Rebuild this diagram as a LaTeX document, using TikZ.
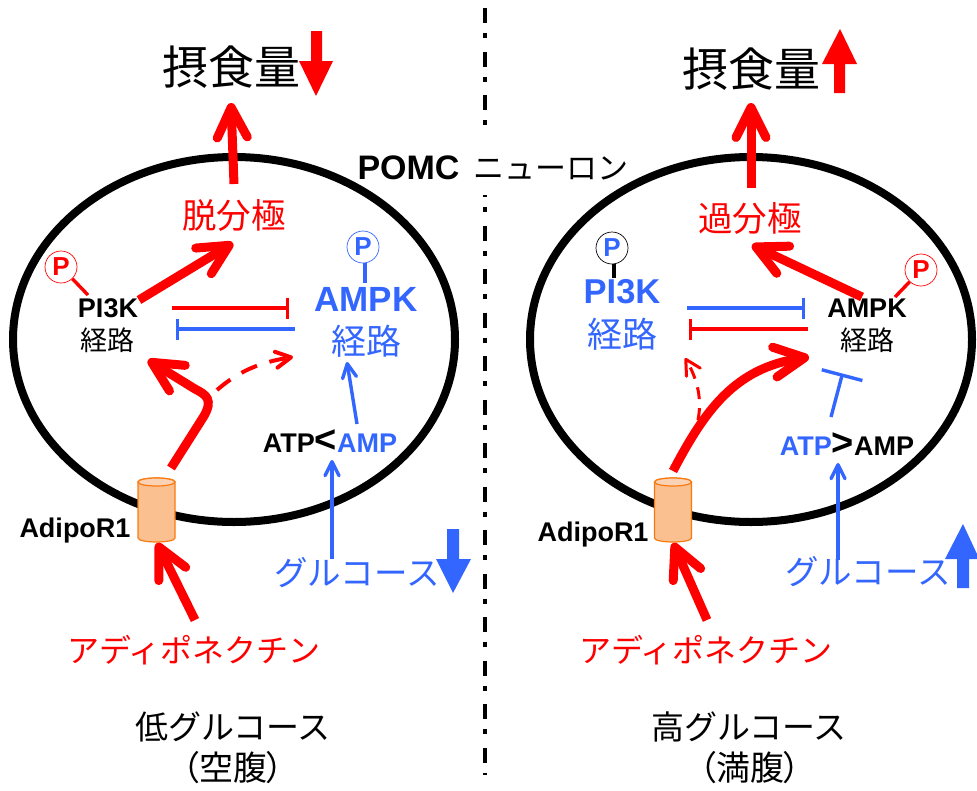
\documentclass[tikz,border=0pt]{standalone}
\usepackage{fontspec}
\setmainfont{Liberation Sans}
\newfontfamily\cjk{Noto Sans CJK JP}
\newfontfamily\cjkprop[RawFeature=+palt]{Noto Sans CJK JP}
\usetikzlibrary{arrows.meta,shapes.geometric}
\definecolor{sigred}{HTML}{FF0000}
\definecolor{sigblue}{HTML}{3366FF}
\definecolor{canal}{HTML}{FAC090}
\definecolor{canalend}{HTML}{FBD3B4}
\definecolor{canaledge}{HTML}{F97A12}
\tikzset{
  jp/.style={inner sep=0pt,outer sep=0pt,font=\cjk\fontsize{#1}{#1}\selectfont},
  jpp/.style={inner sep=0pt,outer sep=0pt,font=\cjkprop\fontsize{#1}{#1}\selectfont},
  lat/.style={inner sep=0pt,outer sep=0pt,font=\bfseries\fontsize{#1}{#1}\selectfont},
  cell/.style={ellipse,draw=black,line width=8pt,minimum width=442pt,minimum height=365pt,inner sep=0pt,outer sep=0pt},
  phos/.style={circle,draw=#1,fill=white,line width=.7pt,minimum size=32pt,inner sep=0pt,font=\bfseries\fontsize{26}{26}\selectfont},
  canal channel/.pic={
    \path[fill=canal,draw=canaledge,line width=1.2pt]
      (-18.5,-28) -- (-18.5,28) .. controls (-18.5,33.3) and (18.5,33.3) .. (18.5,28) -- (18.5,-28)
      .. controls (18.5,-33.3) and (-18.5,-33.3) .. (-18.5,-28) -- cycle;
    \path[fill=canalend,draw=canaledge,line width=1.2pt] (0,-28) ellipse [x radius=18.5pt,y radius=4pt];
  },
  thick arrow/.style={draw=sigred,line width=9pt,-{Straight Barb[length=30pt,width=30pt,round]}},
  thin arrow/.style={draw=sigblue,line width=3.4pt,-{Straight Barb[length=14pt,width=14pt,round]}},
  dash arrow/.style={draw=sigred,line width=4pt,dash pattern=on 17pt off 13pt,-{Straight Barb[length=15pt,width=16pt,round]}},
  inhibit/.style={draw=#1,line width=3.4pt,-{Bar[width=21pt]}},
  stem/.style={draw=#1,line width=3.4pt},
  divider/.style={draw=black,line width=3.6pt,dash pattern=on 15pt off 10pt on 5pt off 13.5pt},
  trend/.style={fill=#1,draw=none}
}
\begin{document}
\begin{tikzpicture}[x=1pt,y=-1pt]
\useasboundingbox (0,0) rectangle (977,790);

% central divider, interrupted by the neuron label
\coordinate (divA) at (485,8);
\coordinate (divB) at (485,128);
\coordinate (divC) at (485,195);
\coordinate (divD) at (485,775);
\draw[divider] (divA) -- (divB);
\draw[divider,dash phase=13pt] (divC) -- (divD);

% the two neurons
\node[cell] (cellL) at (234,339.5) {};
\node[cell] (cellR) at (751,339.5) {};
\pic at (156.5,510) {canal channel};
\pic at (673,510) {canal channel};

% --- low glucose -------------------------------------------------
\node[jp=46] (intakeL) at (231,67) {摂食量};
\fill[trend=sigred] (311,31) -- (322,31) -- (322,61) -- (333,61) -- (316,96) -- (299,61) -- (311,61) -- cycle;
\node[jp=34.5,text=sigred] (polL) at (234,215) {脱分極};
\node[phos=sigred,text=sigred] (pA) at (61,267) {P};
\node[lat=27] (pi3kL) at (108,308) {PI3K};
\node[jp=27] (pathA) at (107,340) {経路};
\node[phos=sigblue,text=sigblue] (pB) at (363,247) {P};
\node[lat=35,text=sigblue] (ampkL) at (366,299) {AMPK};
\node[jp=35,text=sigblue] (pathB) at (366,341) {経路};
\node[lat=27,anchor=base] (ratioL) at (330,452) {ATP{\fontsize{38}{38}\selectfont <}\textcolor{sigblue}{AMP}};
\node[lat=27,anchor=base] (adipoL) at (75,537) {AdipoR1};
\node[jp=33.5,text=sigblue] (glucL) at (357,573) {グルコース};
\fill[trend=sigblue] (447,529) -- (459,529) -- (459,559) -- (471,559) -- (453,593) -- (436,559) -- (447,559) -- cycle;
\node[jp=32,text=sigred] (adipoNL) at (194,650) {アディポネクチン};
\node[jp=33] (condL) at (233,727) {低グルコース};
\node[jpp=34] (fastL) at (233,768) {（空腹）};

\coordinate (upLa) at (234,184);
\coordinate (upLb) at (231,103);
\draw[thick arrow] (upLa) -- (upLb);
\coordinate (pkA) at (139,300);
\coordinate (pkB) at (233,243);
\draw[thick arrow] (pkA) -- (pkB);
\coordinate (stemA) at (88,295);
\draw[stem=sigred] (pA) -- (stemA);
\coordinate (stemB) at (365,283);
\draw[stem=sigblue] (pB.south -| stemB) -- (stemB);
\coordinate (inhA) at (172,308);
\coordinate (inhB) at (289,308);
\draw[inhibit=sigred] (inhA) -- (inhB);
\coordinate (inhC) at (295,329);
\coordinate (inhD) at (176,329);
\draw[inhibit=sigblue] (inhC) -- (inhD);
\coordinate (bendA) at (171,468);
\coordinate (bendB) at (148,360);
\draw[thick arrow] (bendA) -- (204,416) .. controls (213,400) and (207,395) .. (195,389) -- (bendB);
\coordinate (dashA) at (217,390);
\coordinate (dashB) at (293,357);
\draw[dash arrow] (dashA) .. controls (240,370) and (262,362) .. (dashB);
\coordinate (ampA) at (357,424);
\coordinate (ampB) at (347,362);
\draw[thin arrow] (ampA) -- (ampB);
\coordinate (gluA) at (332,559);
\coordinate (gluB) at (332,460);
\draw[thin arrow] (gluA) -- (gluB);
\coordinate (adA) at (195,620);
\coordinate (adB) at (157,543);
\draw[thick arrow] (adA) -- (adB);

% --- high glucose ------------------------------------------------
\node[jp=46] (intakeR) at (751,69) {摂食量};
\fill[trend=sigred] (834,93) -- (845,93) -- (845,64) -- (857,64) -- (840,29) -- (822,64) -- (834,64) -- cycle;
\node[jp=34.5,text=sigred] (polR) at (750,218) {過分極};
\node[phos=black,text=sigblue] (pC) at (612,248) {P};
\node[lat=34.5,text=sigblue] (pi3kR) at (622,292) {PI3K};
\node[jp=35,text=sigblue] (pathC) at (622,334) {経路};
\node[phos=sigred,text=sigred] (pD) at (921,270) {P};
\node[lat=27] (ampkR) at (867,308) {AMPK};
\node[jp=27] (pathD) at (867,340) {経路};
\node[lat=27,anchor=base] (ratioR) at (847,455) {\textcolor{sigblue}{ATP}{\fontsize{38}{38}\selectfont >}AMP};
\node[lat=27,anchor=base] (adipoR) at (593,541) {AdipoR1};
\node[jp=33.5,text=sigblue] (glucR) at (868,572) {グルコース};
\fill[trend=sigblue] (957,588) -- (969,588) -- (969,559) -- (977,559) -- (977,554) -- (963,524) -- (945,559) -- (957,559) -- cycle;
\node[jp=32,text=sigred] (adipoNR) at (706,650) {アディポネクチン};
\node[jp=33] (condR) at (749,727) {高グルコース};
\node[jpp=34] (fullR) at (750,768) {（満腹）};

\coordinate (upRa) at (751,188);
\coordinate (upRb) at (751,103);
\draw[thick arrow] (upRa) -- (upRb);
\coordinate (pkC) at (862,297);
\coordinate (pkD) at (752,245);
\draw[thick arrow] (pkC) -- (pkD);
\coordinate (stemC) at (614,278);
\draw[stem=black] (pC.south -| stemC) -- (stemC);
\coordinate (stemD) at (895,297);
\draw[stem=sigred] (pD) -- (stemD);
\coordinate (inhE) at (687,308);
\coordinate (inhF) at (805,308);
\draw[inhibit=sigblue] (inhE) -- (inhF);
\coordinate (inhG) at (808,329);
\coordinate (inhH) at (689,329);
\draw[inhibit=sigred] (inhG) -- (inhH);
\coordinate (curveA) at (673,471);
\coordinate (curveB) at (809,357);
\draw[thick arrow] (curveA) .. controls (705,410) and (735,368) .. (curveB);
\coordinate (dashC) at (698,420);
\coordinate (dashD) at (685,358);
\draw[dash arrow,line width=3pt,dash pattern=on 12pt off 9pt] (dashC) .. controls (702,400) and (698,380) .. (dashD);
\coordinate (blockA) at (831,417);
\coordinate (blockB) at (842.5,373.5);
\draw[draw=sigblue,line width=3.4pt,-{Bar[width=42pt]}] (blockA) -- (blockB);
\coordinate (gluC) at (838,560);
\coordinate (gluD) at (838,463);
\draw[thin arrow] (gluC) -- (gluD);
\coordinate (adC) at (707,620);
\coordinate (adD) at (673,543);
\draw[thick arrow] (adC) -- (adD);

% neuron label across the divider
\node[anchor=base,inner sep=0pt] (pomc) at (493,179) {{\bfseries\fontsize{34}{34}\selectfont POMC}\hspace{14pt}{\cjk\fontsize{31}{31}\selectfont ニューロン}};
\end{tikzpicture}
\end{document}
